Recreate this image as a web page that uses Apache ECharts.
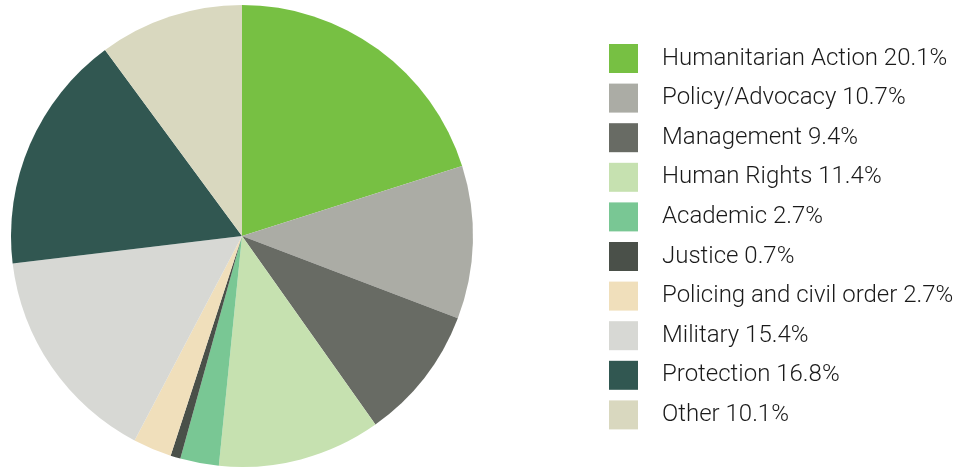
<!DOCTYPE html>
<html>
<head>
<meta charset="utf-8">
<script src="https://cdn.jsdelivr.net/npm/echarts@6/dist/echarts.min.js"></script>
<style>
  html, body { margin: 0; padding: 0; background: #fff; }
  #chart { width: 968px; height: 468px; }
</style>
</head>
<body>
<div id="chart"></div>
<script>
// 数据
var categories = ["Humanitarian Action", "Policy/Advocacy", "Management", "Human Rights", "Academic",
  "Justice", "Policing and civil order", "Military", "Protection", "Other"];
var values = [20.1, 10.7, 9.4, 11.4, 2.7, 0.7, 2.7, 15.4, 16.8, 10.1];
var colors = ["#77c043", "#abaca5", "#686b64", "#c6e1b0", "#79c794",
  "#4a5049", "#f0dfbb", "#d7d8d4", "#315751", "#d9d8bf"];

var pieData = categories.map(function (name, i) {
  return { name: name, value: values[i], itemStyle: { color: colors[i] } };
});

var chart = echarts.init(document.getElementById("chart"));
chart.setOption({
  animation: false,
  legend: {
    orient: "vertical",
    left: 609,
    top: 44,
    padding: 0,
    itemWidth: 29,
    itemHeight: 29,
    itemGap: 10.6,
    icon: "rect",
    data: categories,
    formatter: function (name) {
      return name + " " + values[categories.indexOf(name)].toFixed(1) + "%";
    },
    textStyle: {
      fontFamily: "Roboto",
      fontWeight: 300,
      fontSize: 24,
      color: "#1a1a1a",
      padding: [0, 0, 0, 19]
    }
  },
  series: [
    {
      type: "pie",
      center: [242, 236],
      radius: 231,
      startAngle: 90,
      clockwise: true,
      label: { show: false },
      labelLine: { show: false },
      emphasis: { disabled: true },
      itemStyle: { borderWidth: 0 },
      data: pieData
    }
  ]
});
</script>
</body>
</html>
